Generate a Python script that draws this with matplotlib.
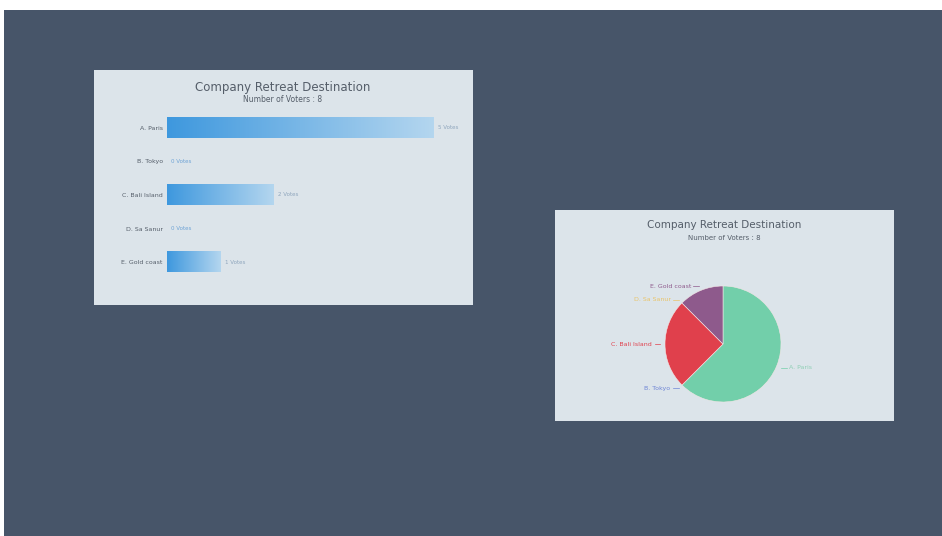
import numpy as np
import matplotlib.pyplot as plt
from matplotlib.patches import Rectangle
from matplotlib.colors import LinearSegmentedColormap

destinations = ['A. Paris', 'B. Tokyo', 'C. Bali Island', 'D. Sa Sanur', 'E. Gold coast']
votes = [5, 0, 2, 0, 1]
total_voters = sum(votes)
title = 'Company Retreat Destination'
subtitle = 'Number of Voters : %d' % total_voters
pie_colors = ['#72cfaa', '#6f86d6', '#e0404c', '#e9c46a', '#8e5a8c']

W, H = 942, 536
bg = '#475569'
panel = '#dce4ea'
text_col = '#555e6a'


def fig_box(x0, y0, x1, y1):
    # pixel box (top-left origin) -> figure fraction
    return [x0 / W, 1 - y1 / H, (x1 - x0) / W, (y1 - y0) / H]


def add_rect(box, color, z):
    fig.patches.append(Rectangle((box[0], box[1]), box[2], box[3], transform=fig.transFigure,
                                 facecolor=color, edgecolor='none', zorder=z))


fig = plt.figure(figsize=(W / 100, H / 100), dpi=100, facecolor='white')
add_rect(fig_box(4, 10, W, H), bg, -3)

# ---- bar panel ----
add_rect(fig_box(94, 70, 473, 305), panel, -2)
fig.text(283 / W, 1 - 87 / H, title, ha='center', va='center', fontsize=8.5, color=text_col)
fig.text(283 / W, 1 - 100 / H, subtitle, ha='center', va='center', fontsize=5.5, color=text_col)

ax = fig.add_axes(fig_box(167, 111, 434, 279))
ax.set_facecolor('none')
ypos = np.arange(len(destinations))
cmap = LinearSegmentedColormap.from_list('blu', ['#3e98de', '#b4d6ef'])
grad = np.linspace(0, 1, 256).reshape(1, -1)
bar_h = 0.6
for y, v in zip(ypos, votes):
    if v > 0:
        ax.imshow(grad, cmap=cmap, aspect='auto',
                  extent=(0, v, y + bar_h / 2, y - bar_h / 2), zorder=2)
    ax.text(v + 0.08, y, '%d Votes' % v, va='center', ha='left', fontsize=4,
            color='#8fa6bd' if v > 0 else '#6fa4d6')
ax.set_xlim(0, max(votes))
ax.set_ylim(len(destinations) - 0.5, -0.5)
ax.set_yticks(ypos)
ax.set_yticklabels(destinations, fontsize=4.5, color=text_col)
ax.tick_params(axis='y', length=0, pad=3)
ax.set_xticks([])
for s in ax.spines.values():
    s.set_visible(False)

# ---- pie panel ----
add_rect(fig_box(555, 210, 894, 421), panel, -2)
fig.text(724 / W, 1 - 225 / H, title, ha='center', va='center', fontsize=7.5, color=text_col)
fig.text(724 / W, 1 - 238 / H, subtitle, ha='center', va='center', fontsize=5, color=text_col)

cx, cy, r = 723, 344, 58
span = 110
pax = fig.add_axes(fig_box(cx - span, cy - span, cx + span, cy + span))
pax.set_facecolor('none')
pax.pie(votes, colors=pie_colors, startangle=90, counterclock=False, radius=1,
        wedgeprops=dict(linewidth=0.4, edgecolor='#f3e6e6'))
lim = span / r
pax.set_xlim(-lim, lim)
pax.set_ylim(-lim, lim)
pax.set_aspect('equal')
pax.axis('off')

# outside labels: short horizontal dash, then the name
start = 0.0
for i, (name, v) in enumerate(zip(destinations, votes)):
    frac = v / total_voters
    mid = start + frac / 2 * 360
    start += frac * 360
    ang = np.deg2rad(mid)
    dx, dy = np.sin(ang), np.cos(ang)
    sx, sy = 1.08 * dx, 1.08 * dy
    side = 1 if dx > 0 else -1
    ex = sx + side * 0.1
    pax.plot([sx, ex], [sy, sy], color=pie_colors[i], lw=0.5)
    pax.text(ex + side * 0.04, sy, name, ha='left' if side > 0 else 'right',
             va='center', fontsize=4.5,
             color='#8fcfb5' if i == 0 else pie_colors[i])

fig.savefig('out.png', dpi=100, facecolor='white')
